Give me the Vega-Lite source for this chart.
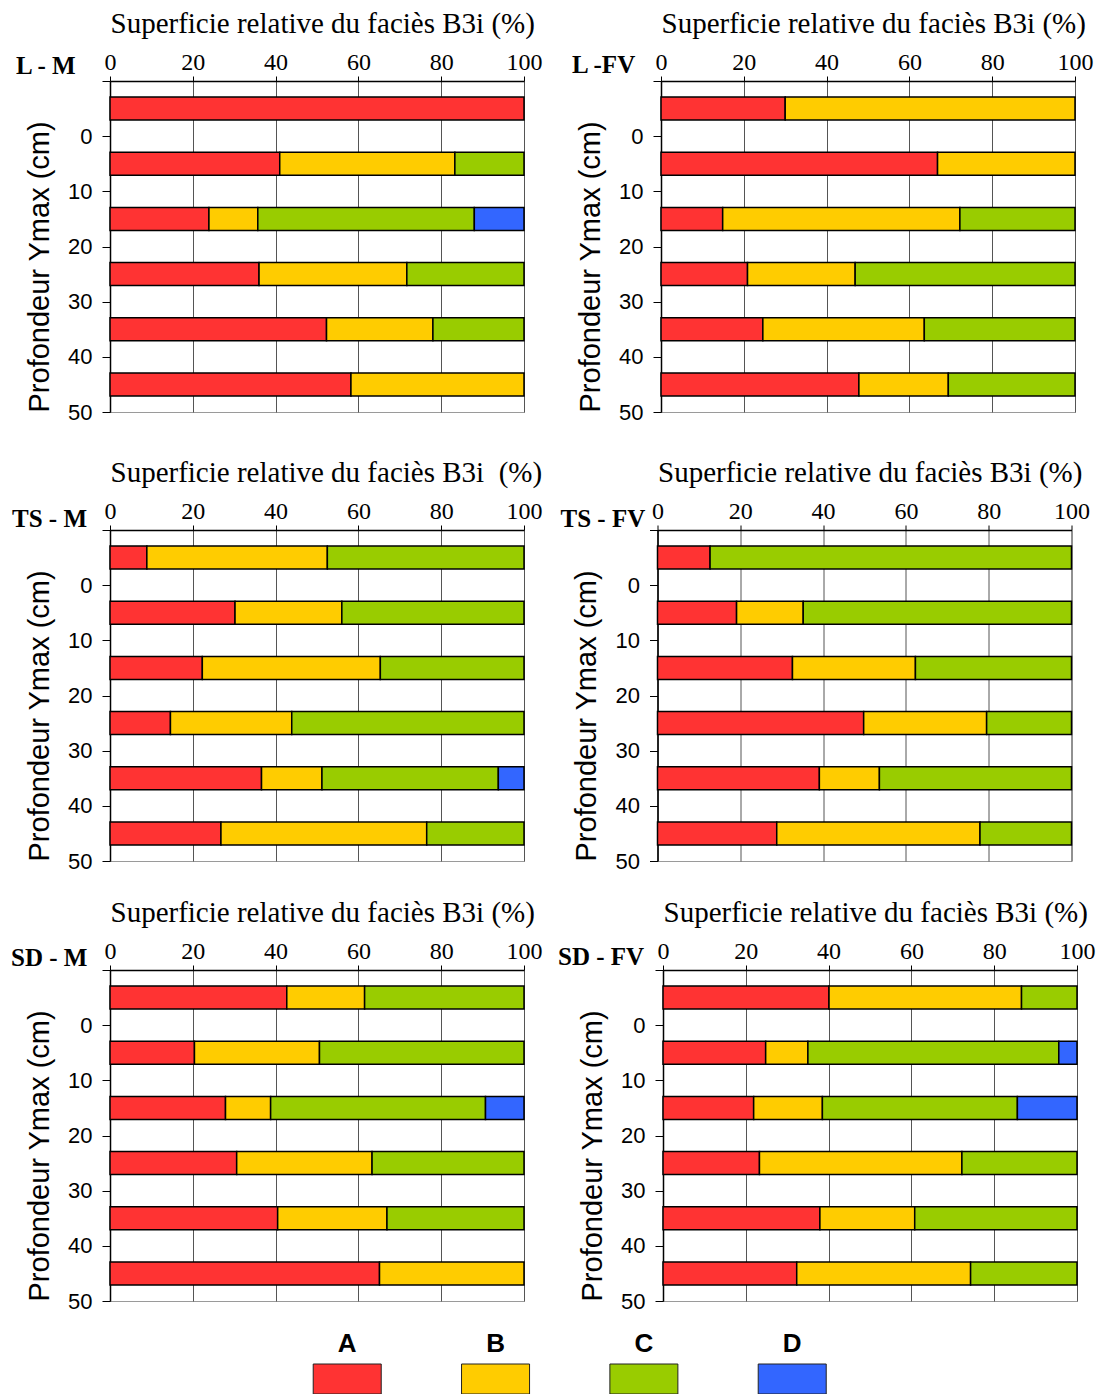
{
  "$schema": "https://vega.github.io/schema/vega-lite/v6.json",
  "background": "white",
  "padding": {"left": 10, "top": 8, "right": 0, "bottom": 0},
  "datasets": {
    "d": [
      {"panel": "L-M", "depth": -5, "cls": "A", "pct": 100},
      {"panel": "L-M", "depth": 5, "cls": "A", "pct": 41},
      {"panel": "L-M", "depth": 5, "cls": "B", "pct": 42.3},
      {"panel": "L-M", "depth": 5, "cls": "C", "pct": 16.7},
      {"panel": "L-M", "depth": 15, "cls": "A", "pct": 23.9},
      {"panel": "L-M", "depth": 15, "cls": "B", "pct": 11.8},
      {"panel": "L-M", "depth": 15, "cls": "C", "pct": 52.3},
      {"panel": "L-M", "depth": 15, "cls": "D", "pct": 12},
      {"panel": "L-M", "depth": 25, "cls": "A", "pct": 36},
      {"panel": "L-M", "depth": 25, "cls": "B", "pct": 35.7},
      {"panel": "L-M", "depth": 25, "cls": "C", "pct": 28.3},
      {"panel": "L-M", "depth": 35, "cls": "A", "pct": 52.3},
      {"panel": "L-M", "depth": 35, "cls": "B", "pct": 25.7},
      {"panel": "L-M", "depth": 35, "cls": "C", "pct": 22},
      {"panel": "L-M", "depth": 45, "cls": "A", "pct": 58.2},
      {"panel": "L-M", "depth": 45, "cls": "B", "pct": 41.8},

      {"panel": "L-FV", "depth": -5, "cls": "A", "pct": 30},
      {"panel": "L-FV", "depth": -5, "cls": "B", "pct": 70},
      {"panel": "L-FV", "depth": 5, "cls": "A", "pct": 66.8},
      {"panel": "L-FV", "depth": 5, "cls": "B", "pct": 33.2},
      {"panel": "L-FV", "depth": 15, "cls": "A", "pct": 14.9},
      {"panel": "L-FV", "depth": 15, "cls": "B", "pct": 57.3},
      {"panel": "L-FV", "depth": 15, "cls": "C", "pct": 27.8},
      {"panel": "L-FV", "depth": 25, "cls": "A", "pct": 20.9},
      {"panel": "L-FV", "depth": 25, "cls": "B", "pct": 26},
      {"panel": "L-FV", "depth": 25, "cls": "C", "pct": 53.1},
      {"panel": "L-FV", "depth": 35, "cls": "A", "pct": 24.6},
      {"panel": "L-FV", "depth": 35, "cls": "B", "pct": 39},
      {"panel": "L-FV", "depth": 35, "cls": "C", "pct": 36.4},
      {"panel": "L-FV", "depth": 45, "cls": "A", "pct": 47.8},
      {"panel": "L-FV", "depth": 45, "cls": "B", "pct": 21.6},
      {"panel": "L-FV", "depth": 45, "cls": "C", "pct": 30.6},

      {"panel": "TS-M", "depth": -5, "cls": "A", "pct": 8.9},
      {"panel": "TS-M", "depth": -5, "cls": "B", "pct": 43.6},
      {"panel": "TS-M", "depth": -5, "cls": "C", "pct": 47.5},
      {"panel": "TS-M", "depth": 5, "cls": "A", "pct": 30.2},
      {"panel": "TS-M", "depth": 5, "cls": "B", "pct": 25.8},
      {"panel": "TS-M", "depth": 5, "cls": "C", "pct": 44},
      {"panel": "TS-M", "depth": 15, "cls": "A", "pct": 22.3},
      {"panel": "TS-M", "depth": 15, "cls": "B", "pct": 43},
      {"panel": "TS-M", "depth": 15, "cls": "C", "pct": 34.7},
      {"panel": "TS-M", "depth": 25, "cls": "A", "pct": 14.6},
      {"panel": "TS-M", "depth": 25, "cls": "B", "pct": 29.3},
      {"panel": "TS-M", "depth": 25, "cls": "C", "pct": 56.1},
      {"panel": "TS-M", "depth": 35, "cls": "A", "pct": 36.6},
      {"panel": "TS-M", "depth": 35, "cls": "B", "pct": 14.6},
      {"panel": "TS-M", "depth": 35, "cls": "C", "pct": 42.6},
      {"panel": "TS-M", "depth": 35, "cls": "D", "pct": 6.2},
      {"panel": "TS-M", "depth": 45, "cls": "A", "pct": 26.8},
      {"panel": "TS-M", "depth": 45, "cls": "B", "pct": 49.7},
      {"panel": "TS-M", "depth": 45, "cls": "C", "pct": 23.5},

      {"panel": "TS-FV", "depth": -5, "cls": "A", "pct": 12.7},
      {"panel": "TS-FV", "depth": -5, "cls": "C", "pct": 87.3},
      {"panel": "TS-FV", "depth": 5, "cls": "A", "pct": 19.1},
      {"panel": "TS-FV", "depth": 5, "cls": "B", "pct": 16.1},
      {"panel": "TS-FV", "depth": 5, "cls": "C", "pct": 64.8},
      {"panel": "TS-FV", "depth": 15, "cls": "A", "pct": 32.6},
      {"panel": "TS-FV", "depth": 15, "cls": "B", "pct": 29.7},
      {"panel": "TS-FV", "depth": 15, "cls": "C", "pct": 37.7},
      {"panel": "TS-FV", "depth": 25, "cls": "A", "pct": 49.8},
      {"panel": "TS-FV", "depth": 25, "cls": "B", "pct": 29.7},
      {"panel": "TS-FV", "depth": 25, "cls": "C", "pct": 20.5},
      {"panel": "TS-FV", "depth": 35, "cls": "A", "pct": 39.1},
      {"panel": "TS-FV", "depth": 35, "cls": "B", "pct": 14.5},
      {"panel": "TS-FV", "depth": 35, "cls": "C", "pct": 46.4},
      {"panel": "TS-FV", "depth": 45, "cls": "A", "pct": 28.8},
      {"panel": "TS-FV", "depth": 45, "cls": "B", "pct": 49.1},
      {"panel": "TS-FV", "depth": 45, "cls": "C", "pct": 22.1},

      {"panel": "SD-M", "depth": -5, "cls": "A", "pct": 42.7},
      {"panel": "SD-M", "depth": -5, "cls": "B", "pct": 18.8},
      {"panel": "SD-M", "depth": -5, "cls": "C", "pct": 38.5},
      {"panel": "SD-M", "depth": 5, "cls": "A", "pct": 20.4},
      {"panel": "SD-M", "depth": 5, "cls": "B", "pct": 30.2},
      {"panel": "SD-M", "depth": 5, "cls": "C", "pct": 49.4},
      {"panel": "SD-M", "depth": 15, "cls": "A", "pct": 27.9},
      {"panel": "SD-M", "depth": 15, "cls": "B", "pct": 10.9},
      {"panel": "SD-M", "depth": 15, "cls": "C", "pct": 51.9},
      {"panel": "SD-M", "depth": 15, "cls": "D", "pct": 9.3},
      {"panel": "SD-M", "depth": 25, "cls": "A", "pct": 30.6},
      {"panel": "SD-M", "depth": 25, "cls": "B", "pct": 32.7},
      {"panel": "SD-M", "depth": 25, "cls": "C", "pct": 36.7},
      {"panel": "SD-M", "depth": 35, "cls": "A", "pct": 40.5},
      {"panel": "SD-M", "depth": 35, "cls": "B", "pct": 26.4},
      {"panel": "SD-M", "depth": 35, "cls": "C", "pct": 33.1},
      {"panel": "SD-M", "depth": 45, "cls": "A", "pct": 65.1},
      {"panel": "SD-M", "depth": 45, "cls": "B", "pct": 34.9},

      {"panel": "SD-FV", "depth": -5, "cls": "A", "pct": 40.1},
      {"panel": "SD-FV", "depth": -5, "cls": "B", "pct": 46.5},
      {"panel": "SD-FV", "depth": -5, "cls": "C", "pct": 13.4},
      {"panel": "SD-FV", "depth": 5, "cls": "A", "pct": 24.8},
      {"panel": "SD-FV", "depth": 5, "cls": "B", "pct": 10.2},
      {"panel": "SD-FV", "depth": 5, "cls": "C", "pct": 60.6},
      {"panel": "SD-FV", "depth": 5, "cls": "D", "pct": 4.4},
      {"panel": "SD-FV", "depth": 15, "cls": "A", "pct": 21.9},
      {"panel": "SD-FV", "depth": 15, "cls": "B", "pct": 16.6},
      {"panel": "SD-FV", "depth": 15, "cls": "C", "pct": 47.1},
      {"panel": "SD-FV", "depth": 15, "cls": "D", "pct": 14.4},
      {"panel": "SD-FV", "depth": 25, "cls": "A", "pct": 23.3},
      {"panel": "SD-FV", "depth": 25, "cls": "B", "pct": 48.9},
      {"panel": "SD-FV", "depth": 25, "cls": "C", "pct": 27.8},
      {"panel": "SD-FV", "depth": 35, "cls": "A", "pct": 37.9},
      {"panel": "SD-FV", "depth": 35, "cls": "B", "pct": 22.9},
      {"panel": "SD-FV", "depth": 35, "cls": "C", "pct": 39.2},
      {"panel": "SD-FV", "depth": 45, "cls": "A", "pct": 32.3},
      {"panel": "SD-FV", "depth": 45, "cls": "B", "pct": 42},
      {"panel": "SD-FV", "depth": 45, "cls": "C", "pct": 25.7}
    ]
  },
  "config": {
    "view": {"stroke": "#9a9a9a", "strokeWidth": 1},
    "font": "Liberation Sans",
    "title": {"anchor": "start", "frame": "group", "baseline": "alphabetic", "font": "Liberation Serif", "fontSize": 25, "fontWeight": "bold", "color": "black", "offset": 0},
    "axis": {"domainColor": "black", "tickColor": "black", "labelColor": "black", "titleColor": "black", "gridColor": "#555555", "gridWidth": 1, "domainWidth": 1.5, "tickWidth": 1}
  },
  "vconcat": [
    {
      "vconcat": [
        {
          "vconcat": [
            {
              "hconcat": [
                {
                  "width": 414, "height": 331,
                  "data": {"name": "d"},
                  "transform": [{"filter": "datum.panel === 'L-M'"}],
                  "title": {"text": "L - M", "dx": -94, "dy": 74},
                  "mark": {"type": "bar", "orient": "horizontal", "height": 23, "stroke": "black", "strokeWidth": 1.5},
                  "encoding": {
                    "y": {"field": "depth", "type": "quantitative", "scale": {"domain": [-10, 50], "reverse": true, "nice": false, "zero": false, "padding": 0},
                      "axis": {"title": "Profondeur Ymax (cm)", "values": [-10, 0, 10, 20, 30, 40, 50], "labelExpr": "datum.value < 0 ? '' : datum.label", "grid": false, "tickSize": 8, "labelPadding": 10, "labelFont": "Liberation Sans", "labelFontSize": 22, "labelOverlap": false, "titleFont": "Liberation Sans", "titleFontSize": 29, "titleFontWeight": "normal", "titleX": -62, "titleY": 331, "titleAlign": "left", "titleBaseline": "alphabetic", "titleAngle": -90}},
                    "x": {"field": "pct", "type": "quantitative", "stack": "zero", "scale": {"domain": [0, 100], "nice": false},
                      "axis": {"orient": "top", "title": "Superficie relative du faciès B3i (%)", "values": [0, 20, 40, 60, 80, 100], "grid": true, "tickSize": 5, "labelPadding": 7, "labelBaseline": "alphabetic", "labelFont": "Liberation Serif", "labelFontSize": 24, "labelFlush": false, "labelOverlap": false, "titleFont": "Liberation Serif", "titleFontSize": 29, "titleFontWeight": "normal", "titleX": 0, "titleY": -49, "titleAlign": "left", "titleBaseline": "alphabetic"}},
                    "color": {"field": "cls", "type": "nominal", "scale": {"domain": ["A", "B", "C", "D"], "range": ["#FF3333", "#FFCC00", "#99CC00", "#3366FF"]}, "legend": null},
                    "order": {"field": "cls", "type": "nominal"}
                  }
                },
                {
                  "width": 414, "height": 331,
                  "data": {"name": "d"},
                  "transform": [{"filter": "datum.panel === 'L-FV'"}],
                  "title": {"text": "L -FV", "dx": -89, "dy": 73},
                  "mark": {"type": "bar", "orient": "horizontal", "height": 23, "stroke": "black", "strokeWidth": 1.5},
                  "encoding": {
                    "y": {"field": "depth", "type": "quantitative", "scale": {"domain": [-10, 50], "reverse": true, "nice": false, "zero": false, "padding": 0},
                      "axis": {"title": "Profondeur Ymax (cm)", "values": [-10, 0, 10, 20, 30, 40, 50], "labelExpr": "datum.value < 0 ? '' : datum.label", "grid": false, "tickSize": 8, "labelPadding": 10, "labelFont": "Liberation Sans", "labelFontSize": 22, "labelOverlap": false, "titleFont": "Liberation Sans", "titleFontSize": 29, "titleFontWeight": "normal", "titleX": -62, "titleY": 331, "titleAlign": "left", "titleBaseline": "alphabetic", "titleAngle": -90}},
                    "x": {"field": "pct", "type": "quantitative", "stack": "zero", "scale": {"domain": [0, 100], "nice": false},
                      "axis": {"orient": "top", "title": "Superficie relative du faciès B3i (%)", "values": [0, 20, 40, 60, 80, 100], "grid": true, "tickSize": 5, "labelPadding": 7, "labelBaseline": "alphabetic", "labelFont": "Liberation Serif", "labelFontSize": 24, "labelFlush": false, "labelOverlap": false, "titleFont": "Liberation Serif", "titleFontSize": 29, "titleFontWeight": "normal", "titleX": 0, "titleY": -49, "titleAlign": "left", "titleBaseline": "alphabetic"}},
                    "color": {"field": "cls", "type": "nominal", "scale": {"domain": ["A", "B", "C", "D"], "range": ["#FF3333", "#FFCC00", "#99CC00", "#3366FF"]}, "legend": null},
                    "order": {"field": "cls", "type": "nominal"}
                  }
                }
              ],
              "spacing": 28
            },
            {
              "hconcat": [
                {
                  "width": 414, "height": 331,
                  "data": {"name": "d"},
                  "transform": [{"filter": "datum.panel === 'TS-M'"}],
                  "title": {"text": "TS - M", "dx": -98, "dy": 78},
                  "mark": {"type": "bar", "orient": "horizontal", "height": 23, "stroke": "black", "strokeWidth": 1.5},
                  "encoding": {
                    "y": {"field": "depth", "type": "quantitative", "scale": {"domain": [-10, 50], "reverse": true, "nice": false, "zero": false, "padding": 0},
                      "axis": {"title": "Profondeur Ymax (cm)", "values": [-10, 0, 10, 20, 30, 40, 50], "labelExpr": "datum.value < 0 ? '' : datum.label", "grid": false, "tickSize": 8, "labelPadding": 10, "labelFont": "Liberation Sans", "labelFontSize": 22, "labelOverlap": false, "titleFont": "Liberation Sans", "titleFontSize": 29, "titleFontWeight": "normal", "titleX": -62, "titleY": 331, "titleAlign": "left", "titleBaseline": "alphabetic", "titleAngle": -90}},
                    "x": {"field": "pct", "type": "quantitative", "stack": "zero", "scale": {"domain": [0, 100], "nice": false},
                      "axis": {"orient": "top", "title": "Superficie relative du faciès B3i\u00a0 (%)", "values": [0, 20, 40, 60, 80, 100], "grid": true, "tickSize": 5, "labelPadding": 7, "labelBaseline": "alphabetic", "labelFont": "Liberation Serif", "labelFontSize": 24, "labelFlush": false, "labelOverlap": false, "titleFont": "Liberation Serif", "titleFontSize": 29, "titleFontWeight": "normal", "titleX": 0, "titleY": -49, "titleAlign": "left", "titleBaseline": "alphabetic"}},
                    "color": {"field": "cls", "type": "nominal", "scale": {"domain": ["A", "B", "C", "D"], "range": ["#FF3333", "#FFCC00", "#99CC00", "#3366FF"]}, "legend": null},
                    "order": {"field": "cls", "type": "nominal"}
                  }
                },
                {
                  "width": 414, "height": 331,
                  "data": {"name": "d"},
                  "transform": [{"filter": "datum.panel === 'TS-FV'"}],
                  "title": {"text": "TS - FV", "dx": -97, "dy": 78},
                  "mark": {"type": "bar", "orient": "horizontal", "height": 23, "stroke": "black", "strokeWidth": 1.5},
                  "encoding": {
                    "y": {"field": "depth", "type": "quantitative", "scale": {"domain": [-10, 50], "reverse": true, "nice": false, "zero": false, "padding": 0},
                      "axis": {"title": "Profondeur Ymax (cm)", "values": [-10, 0, 10, 20, 30, 40, 50], "labelExpr": "datum.value < 0 ? '' : datum.label", "grid": false, "tickSize": 8, "labelPadding": 10, "labelFont": "Liberation Sans", "labelFontSize": 22, "labelOverlap": false, "titleFont": "Liberation Sans", "titleFontSize": 29, "titleFontWeight": "normal", "titleX": -62, "titleY": 331, "titleAlign": "left", "titleBaseline": "alphabetic", "titleAngle": -90}},
                    "x": {"field": "pct", "type": "quantitative", "stack": "zero", "scale": {"domain": [0, 100], "nice": false},
                      "axis": {"orient": "top", "title": "Superficie relative du faciès B3i (%)", "values": [0, 20, 40, 60, 80, 100], "grid": true, "tickSize": 5, "labelPadding": 7, "labelBaseline": "alphabetic", "labelFont": "Liberation Serif", "labelFontSize": 24, "labelFlush": false, "labelOverlap": false, "titleFont": "Liberation Serif", "titleFontSize": 29, "titleFontWeight": "normal", "titleX": 0, "titleY": -49, "titleAlign": "left", "titleBaseline": "alphabetic"}},
                    "color": {"field": "cls", "type": "nominal", "scale": {"domain": ["A", "B", "C", "D"], "range": ["#FF3333", "#FFCC00", "#99CC00", "#3366FF"]}, "legend": null},
                    "order": {"field": "cls", "type": "nominal"}
                  }
                }
              ],
              "spacing": 16.5
            }
          ],
          "spacing": 33
        },
        {
          "hconcat": [
            {
              "width": 414, "height": 331,
              "data": {"name": "d"},
              "transform": [{"filter": "datum.panel === 'SD-M'"}],
              "title": {"text": "SD - M", "dx": -99, "dy": 77},
              "mark": {"type": "bar", "orient": "horizontal", "height": 23, "stroke": "black", "strokeWidth": 1.5},
              "encoding": {
                "y": {"field": "depth", "type": "quantitative", "scale": {"domain": [-10, 50], "reverse": true, "nice": false, "zero": false, "padding": 0},
                  "axis": {"title": "Profondeur Ymax (cm)", "values": [-10, 0, 10, 20, 30, 40, 50], "labelExpr": "datum.value < 0 ? '' : datum.label", "grid": false, "tickSize": 8, "labelPadding": 10, "labelFont": "Liberation Sans", "labelFontSize": 22, "labelOverlap": false, "titleFont": "Liberation Sans", "titleFontSize": 29, "titleFontWeight": "normal", "titleX": -62, "titleY": 331, "titleAlign": "left", "titleBaseline": "alphabetic", "titleAngle": -90}},
                "x": {"field": "pct", "type": "quantitative", "stack": "zero", "scale": {"domain": [0, 100], "nice": false},
                  "axis": {"orient": "top", "title": "Superficie relative du faciès B3i (%)", "values": [0, 20, 40, 60, 80, 100], "grid": true, "tickSize": 5, "labelPadding": 7, "labelBaseline": "alphabetic", "labelFont": "Liberation Serif", "labelFontSize": 24, "labelFlush": false, "labelOverlap": false, "titleFont": "Liberation Serif", "titleFontSize": 29, "titleFontWeight": "normal", "titleX": 0, "titleY": -49, "titleAlign": "left", "titleBaseline": "alphabetic"}},
                "color": {"field": "cls", "type": "nominal", "scale": {"domain": ["A", "B", "C", "D"], "range": ["#FF3333", "#FFCC00", "#99CC00", "#3366FF"]}, "legend": null},
                "order": {"field": "cls", "type": "nominal"}
              }
            },
            {
              "width": 414, "height": 331,
              "data": {"name": "d"},
              "transform": [{"filter": "datum.panel === 'SD-FV'"}],
              "title": {"text": "SD - FV", "dx": -105, "dy": 76},
              "mark": {"type": "bar", "orient": "horizontal", "height": 23, "stroke": "black", "strokeWidth": 1.5},
              "encoding": {
                "y": {"field": "depth", "type": "quantitative", "scale": {"domain": [-10, 50], "reverse": true, "nice": false, "zero": false, "padding": 0},
                  "axis": {"title": "Profondeur Ymax (cm)", "values": [-10, 0, 10, 20, 30, 40, 50], "labelExpr": "datum.value < 0 ? '' : datum.label", "grid": false, "tickSize": 8, "labelPadding": 10, "labelFont": "Liberation Sans", "labelFontSize": 22, "labelOverlap": false, "titleFont": "Liberation Sans", "titleFontSize": 29, "titleFontWeight": "normal", "titleX": -62, "titleY": 331, "titleAlign": "left", "titleBaseline": "alphabetic", "titleAngle": -90}},
                "x": {"field": "pct", "type": "quantitative", "stack": "zero", "scale": {"domain": [0, 100], "nice": false},
                  "axis": {"orient": "top", "title": "Superficie relative du faciès B3i (%)", "values": [0, 20, 40, 60, 80, 100], "grid": true, "tickSize": 5, "labelPadding": 7, "labelBaseline": "alphabetic", "labelFont": "Liberation Serif", "labelFontSize": 24, "labelFlush": false, "labelOverlap": false, "titleFont": "Liberation Serif", "titleFontSize": 29, "titleFontWeight": "normal", "titleX": 0, "titleY": -49, "titleAlign": "left", "titleBaseline": "alphabetic"}},
                "color": {"field": "cls", "type": "nominal", "scale": {"domain": ["A", "B", "C", "D"], "range": ["#FF3333", "#FFCC00", "#99CC00", "#3366FF"]}, "legend": null},
                "order": {"field": "cls", "type": "nominal"}
              }
            }
          ],
          "spacing": 14
        }
      ],
      "spacing": 24
    },
    {
      "width": 890, "height": 30,
      "view": {"stroke": null},
      "data": {"values": [{"cls": "A"}, {"cls": "B"}, {"cls": "C"}, {"cls": "D"}]},
      "mark": {"type": "bar", "width": {"band": 0.4585}, "stroke": "#222222", "strokeWidth": 1},
      "encoding": {
        "x": {"field": "cls", "type": "nominal", "scale": {"paddingInner": 0, "paddingOuter": 1, "align": 0.5496},
          "axis": {"orient": "top", "title": null, "labelAngle": 0, "labelFont": "Liberation Sans", "labelFontWeight": "bold", "labelFontSize": 26, "labelColor": "black", "ticks": false, "domain": false, "labelPadding": 13, "labelBaseline": "alphabetic"}},
        "color": {"field": "cls", "type": "nominal", "scale": {"domain": ["A", "B", "C", "D"], "range": ["#FF3333", "#FFCC00", "#99CC00", "#3366FF"]}, "legend": null}
      }
    }
  ],
  "spacing": 17
}
